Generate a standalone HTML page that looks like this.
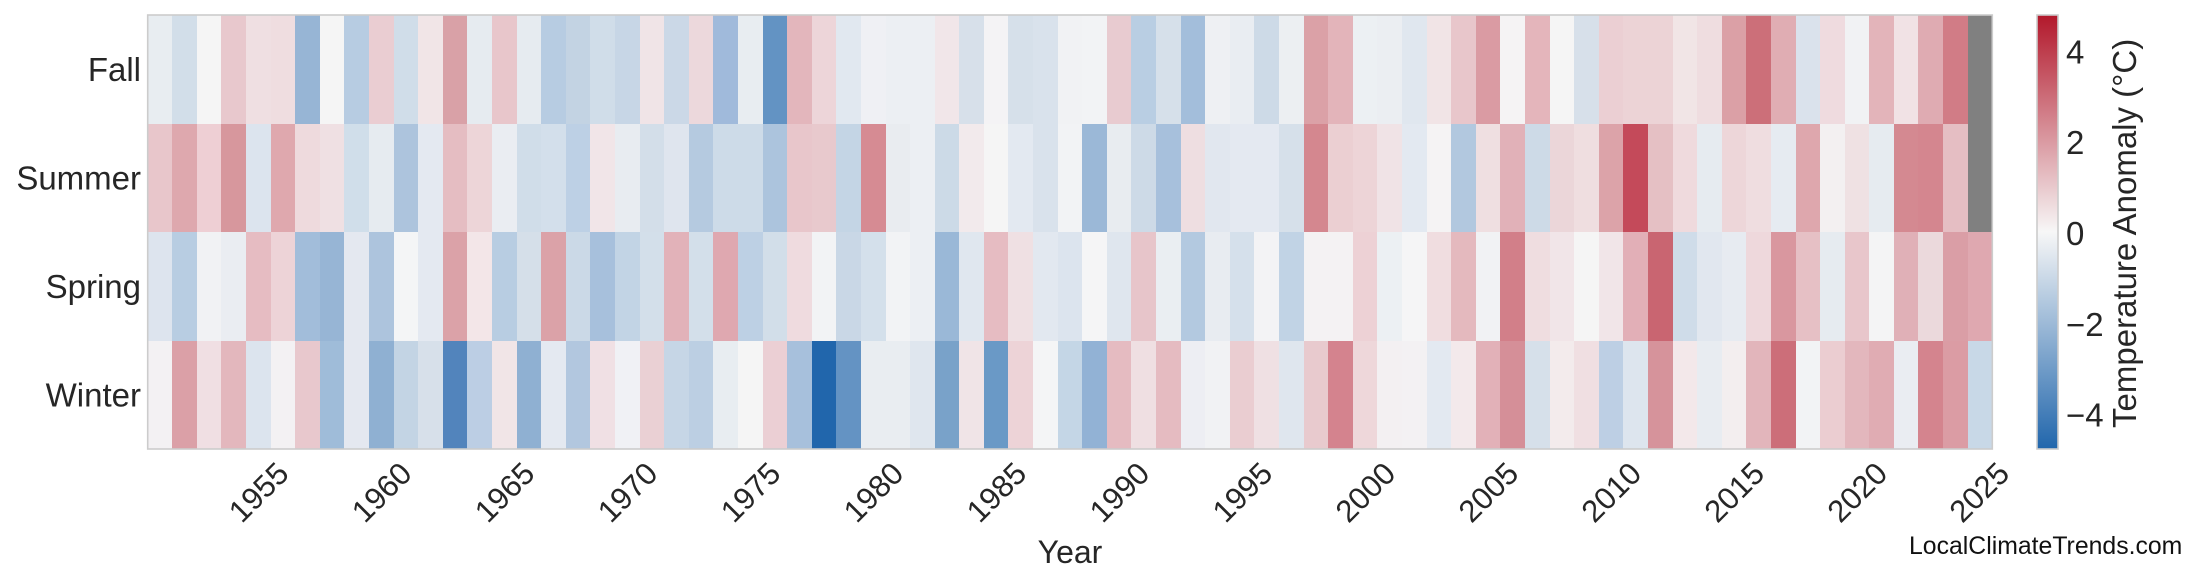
<!DOCTYPE html>
<html>
<head>
<meta charset="utf-8">
<style>
html,body{margin:0;padding:0;background:#fff;}
#wrap{position:relative;width:2200px;height:585px;overflow:hidden;background:#fff;}
#hm{position:absolute;left:147.7px;top:15px;width:1844.6px;height:434px;display:grid;grid-template-columns:repeat(75,1fr);grid-template-rows:repeat(4,1fr);}
#hm i{display:block;}
#cb{position:absolute;left:2037px;top:15px;width:21px;height:434px;background:linear-gradient(to bottom,#b2182b 0%,#f7f7f7 50%,#2166ac 100%);}
svg{position:absolute;left:0;top:0;}
text{font-family:"Liberation Sans",Arial,sans-serif;fill:#262626;}
</style>
</head>
<body>
<div id="wrap">
<div id="hm">
<i style="background:#e8edf1"></i><i style="background:#d2dee9"></i><i style="background:#f5f5f5"></i><i style="background:#e8c8cd"></i><i style="background:#efdfe2"></i><i style="background:#efdde0"></i><i style="background:#97b5d5"></i><i style="background:#f5f5f5"></i><i style="background:#b7cce2"></i><i style="background:#eacdd2"></i><i style="background:#d0dde9"></i><i style="background:#f1e5e7"></i><i style="background:#d9a1a7"></i><i style="background:#e6ebf0"></i><i style="background:#e8c6cb"></i><i style="background:#e6ebf0"></i><i style="background:#b7cce2"></i><i style="background:#c3d3e3"></i><i style="background:#d0dde9"></i><i style="background:#c7d6e6"></i><i style="background:#f0e4e7"></i><i style="background:#cbd8e7"></i><i style="background:#ecd8dc"></i><i style="background:#a0badb"></i><i style="background:#e8edf1"></i><i style="background:#6393c3"></i><i style="background:#e3b6bc"></i><i style="background:#edd5d9"></i><i style="background:#e1e8f0"></i><i style="background:#eff0f4"></i><i style="background:#eceff3"></i><i style="background:#eceff3"></i><i style="background:#f1e6e9"></i><i style="background:#d7e0ea"></i><i style="background:#f4f3f5"></i><i style="background:#d6e0ea"></i><i style="background:#d9e2ec"></i><i style="background:#f1f2f4"></i><i style="background:#f2f3f5"></i><i style="background:#e8cbd0"></i><i style="background:#b9cee3"></i><i style="background:#d6e0ea"></i><i style="background:#a3bedb"></i><i style="background:#eef0f3"></i><i style="background:#e9edf2"></i><i style="background:#cddae7"></i><i style="background:#eceff2"></i><i style="background:#dba1a7"></i><i style="background:#e3b4ba"></i><i style="background:#ecf0f3"></i><i style="background:#ebeef2"></i><i style="background:#e0e7ef"></i><i style="background:#f1e4e6"></i><i style="background:#e8c6cb"></i><i style="background:#da9ba3"></i><i style="background:#f5f3f4"></i><i style="background:#e4b5bb"></i><i style="background:#f5f5f5"></i><i style="background:#d7e0ea"></i><i style="background:#ebcfd3"></i><i style="background:#ecd3d6"></i><i style="background:#ecd3d6"></i><i style="background:#f1e5e6"></i><i style="background:#efdde0"></i><i style="background:#dba0a6"></i><i style="background:#cc6f79"></i><i style="background:#e0adb3"></i><i style="background:#dae2ec"></i><i style="background:#efdbdf"></i><i style="background:#f1f2f4"></i><i style="background:#e3b4ba"></i><i style="background:#f1e2e5"></i><i style="background:#dfabb2"></i><i style="background:#d17c86"></i><i style="background:#808080"></i>
<i style="background:#e8c6cb"></i><i style="background:#dea8ae"></i><i style="background:#eecfd4"></i><i style="background:#d7979d"></i><i style="background:#dce4ee"></i><i style="background:#dfa8ae"></i><i style="background:#eedadd"></i><i style="background:#efe0e3"></i><i style="background:#d0deea"></i><i style="background:#e6ebf0"></i><i style="background:#adc4dd"></i><i style="background:#e4e9f1"></i><i style="background:#e5bdc2"></i><i style="background:#edd5d8"></i><i style="background:#eaedf2"></i><i style="background:#d0dde9"></i><i style="background:#d3dfeb"></i><i style="background:#bdd0e5"></i><i style="background:#f1e5e8"></i><i style="background:#e8ecf1"></i><i style="background:#d3dee9"></i><i style="background:#dfe5ee"></i><i style="background:#b5cae0"></i><i style="background:#cddbe8"></i><i style="background:#cddbe8"></i><i style="background:#acc4dd"></i><i style="background:#e8c6cb"></i><i style="background:#e8c9cd"></i><i style="background:#c4d5e5"></i><i style="background:#d68b93"></i><i style="background:#e9ecf0"></i><i style="background:#eceff3"></i><i style="background:#ccdae7"></i><i style="background:#f2eaec"></i><i style="background:#f5f5f5"></i><i style="background:#e3e9f1"></i><i style="background:#d9e2ec"></i><i style="background:#f2f3f5"></i><i style="background:#9bb8d7"></i><i style="background:#e8ecf0"></i><i style="background:#cddae7"></i><i style="background:#a7c0dc"></i><i style="background:#eedee1"></i><i style="background:#e1e7ef"></i><i style="background:#e4e9f1"></i><i style="background:#e4e9f1"></i><i style="background:#d6e0ea"></i><i style="background:#d4878f"></i><i style="background:#ebcfd2"></i><i style="background:#edd4d7"></i><i style="background:#f0e3e6"></i><i style="background:#e3e9f1"></i><i style="background:#f5f3f4"></i><i style="background:#b2c8df"></i><i style="background:#efdfe1"></i><i style="background:#e1b1b8"></i><i style="background:#cddae7"></i><i style="background:#ebd6d9"></i><i style="background:#efdee0"></i><i style="background:#dca3a9"></i><i style="background:#c44a5a"></i><i style="background:#e5c0c4"></i><i style="background:#efdadd"></i><i style="background:#e6ebf0"></i><i style="background:#edd6d9"></i><i style="background:#efdde0"></i><i style="background:#e6ebf1"></i><i style="background:#dea7ad"></i><i style="background:#f3f0f1"></i><i style="background:#efe1e3"></i><i style="background:#e6ebf0"></i><i style="background:#d48991"></i><i style="background:#d4868f"></i><i style="background:#e5bec3"></i><i style="background:#808080"></i>
<i style="background:#dde4ee"></i><i style="background:#b8cde2"></i><i style="background:#f1f2f4"></i><i style="background:#eaedf2"></i><i style="background:#e6bcc2"></i><i style="background:#edd3d7"></i><i style="background:#a2bdda"></i><i style="background:#97b5d5"></i><i style="background:#e4e8f0"></i><i style="background:#adc4dd"></i><i style="background:#f4f5f6"></i><i style="background:#e4e9f1"></i><i style="background:#dba2a8"></i><i style="background:#f3e6e8"></i><i style="background:#b8cde2"></i><i style="background:#d5dfe9"></i><i style="background:#dba2a8"></i><i style="background:#cbd9e7"></i><i style="background:#a7c0dc"></i><i style="background:#c2d4e5"></i><i style="background:#d3dfea"></i><i style="background:#e2b2b9"></i><i style="background:#d3dfea"></i><i style="background:#dfa8b0"></i><i style="background:#bdd0e4"></i><i style="background:#d2dee9"></i><i style="background:#efdbdf"></i><i style="background:#f2f3f5"></i><i style="background:#c9d7e6"></i><i style="background:#d4e0eb"></i><i style="background:#f2f3f5"></i><i style="background:#eceff3"></i><i style="background:#9ab8d7"></i><i style="background:#e0e7ef"></i><i style="background:#e6bcc2"></i><i style="background:#efe0e3"></i><i style="background:#e2e8f0"></i><i style="background:#dce4ee"></i><i style="background:#f5f5f6"></i><i style="background:#dfe6ee"></i><i style="background:#e7c5ca"></i><i style="background:#eaeef2"></i><i style="background:#b3c9e0"></i><i style="background:#e8ecf1"></i><i style="background:#d5e0eb"></i><i style="background:#f3f3f5"></i><i style="background:#c1d3e5"></i><i style="background:#f4f2f3"></i><i style="background:#f4f2f3"></i><i style="background:#edd1d5"></i><i style="background:#ecf0f3"></i><i style="background:#f5f5f6"></i><i style="background:#f0dde0"></i><i style="background:#e4b9be"></i><i style="background:#f1f2f4"></i><i style="background:#d27f89"></i><i style="background:#efdde0"></i><i style="background:#f1e5e8"></i><i style="background:#f5f5f5"></i><i style="background:#f1e5e8"></i><i style="background:#e2afb7"></i><i style="background:#c96571"></i><i style="background:#cfdce9"></i><i style="background:#e1e7ef"></i><i style="background:#e7ebf1"></i><i style="background:#eed8dc"></i><i style="background:#d9979f"></i><i style="background:#e6c0c5"></i><i style="background:#e6ebf0"></i><i style="background:#e8c6cb"></i><i style="background:#f4f4f5"></i><i style="background:#e0b0b7"></i><i style="background:#ebd9dc"></i><i style="background:#da9ea6"></i><i style="background:#dfa8b0"></i>
<i style="background:#f3f1f3"></i><i style="background:#dba0a7"></i><i style="background:#f0dfe3"></i><i style="background:#e3b7bd"></i><i style="background:#dce4ee"></i><i style="background:#f3f1f3"></i><i style="background:#e8c8cd"></i><i style="background:#9fbcd9"></i><i style="background:#e4e8f0"></i><i style="background:#8fb0d2"></i><i style="background:#c3d4e4"></i><i style="background:#d7e0ea"></i><i style="background:#5284bc"></i><i style="background:#bccee4"></i><i style="background:#f1e5e7"></i><i style="background:#8fb0d2"></i><i style="background:#e4e9f1"></i><i style="background:#b2c7df"></i><i style="background:#f0e0e4"></i><i style="background:#f0f1f5"></i><i style="background:#ead0d4"></i><i style="background:#c6d6e6"></i><i style="background:#bccfe3"></i><i style="background:#e8edf1"></i><i style="background:#f5f5f5"></i><i style="background:#ebcfd4"></i><i style="background:#a7c0dc"></i><i style="background:#2166ac"></i><i style="background:#6493c3"></i><i style="background:#e9edf1"></i><i style="background:#e9edf1"></i><i style="background:#dfe6ee"></i><i style="background:#79a2c9"></i><i style="background:#f0e4e7"></i><i style="background:#6a99c6"></i><i style="background:#edd3d7"></i><i style="background:#f4f5f6"></i><i style="background:#c4d6e6"></i><i style="background:#92b2d5"></i><i style="background:#e5bbc1"></i><i style="background:#efdfe2"></i><i style="background:#e5bbc1"></i><i style="background:#edeef3"></i><i style="background:#f1f2f4"></i><i style="background:#eacdd1"></i><i style="background:#efe0e3"></i><i style="background:#dfe6ee"></i><i style="background:#e8cace"></i><i style="background:#d4838e"></i><i style="background:#eed7da"></i><i style="background:#f3f0f2"></i><i style="background:#f3f1f3"></i><i style="background:#e3e9f1"></i><i style="background:#f3e9eb"></i><i style="background:#e2b1b8"></i><i style="background:#d58f98"></i><i style="background:#d6e0ea"></i><i style="background:#f3ebec"></i><i style="background:#f0dfe2"></i><i style="background:#bdcfe4"></i><i style="background:#dde5ee"></i><i style="background:#d6939b"></i><i style="background:#f3e8ea"></i><i style="background:#e8ecf1"></i><i style="background:#f3eeef"></i><i style="background:#e2b5bb"></i><i style="background:#cc6e79"></i><i style="background:#f2f3f5"></i><i style="background:#ebcdd1"></i><i style="background:#e3b7bd"></i><i style="background:#e0acb3"></i><i style="background:#eaedf2"></i><i style="background:#d4848e"></i><i style="background:#db9ca4"></i><i style="background:#c8d8e7"></i>
</div>
<div id="cb"></div>
<svg width="2200" height="585" viewBox="0 0 2200 585" xmlns="http://www.w3.org/2000/svg">
  <rect x="147.7" y="15" width="1844.6" height="434" fill="none" stroke="#cccccc" stroke-width="1.6"/>
  <rect x="2037" y="15" width="21" height="434" fill="none" stroke="#cccccc" stroke-width="1.6"/>

  <g font-size="33" text-anchor="end">
    <text x="141" y="80.8">Fall</text>
    <text x="141" y="189.3">Summer</text>
    <text x="141" y="297.8">Spring</text>
    <text x="141" y="406.3">Winter</text>
  </g>

  <g font-size="31" text-anchor="middle">
    <text transform="translate(258.4,492) rotate(-45)" y="11">1955</text>
    <text transform="translate(381.4,492) rotate(-45)" y="11">1960</text>
    <text transform="translate(504.3,492) rotate(-45)" y="11">1965</text>
    <text transform="translate(627.3,492) rotate(-45)" y="11">1970</text>
    <text transform="translate(750.3,492) rotate(-45)" y="11">1975</text>
    <text transform="translate(873.2,492) rotate(-45)" y="11">1980</text>
    <text transform="translate(996.2,492) rotate(-45)" y="11">1985</text>
    <text transform="translate(1119.2,492) rotate(-45)" y="11">1990</text>
    <text transform="translate(1242.1,492) rotate(-45)" y="11">1995</text>
    <text transform="translate(1365.1,492) rotate(-45)" y="11">2000</text>
    <text transform="translate(1488.1,492) rotate(-45)" y="11">2005</text>
    <text transform="translate(1611.0,492) rotate(-45)" y="11">2010</text>
    <text transform="translate(1734.0,492) rotate(-45)" y="11">2015</text>
    <text transform="translate(1857.0,492) rotate(-45)" y="11">2020</text>
    <text transform="translate(1979.0,492) rotate(-45)" y="11">2025</text>
  </g>

  <text x="1070" y="563" font-size="32" text-anchor="middle">Year</text>

  <g font-size="33">
    <text x="2066" y="63.4">4</text>
    <text x="2066" y="154.2">2</text>
    <text x="2066" y="245">0</text>
    <text x="2066" y="335.8">−2</text>
    <text x="2066" y="426.6">−4</text>
  </g>

  <text transform="translate(2136,233.4) rotate(-90)" font-size="33" text-anchor="middle">Temperature Anomaly (°C)</text>

  <text x="1909" y="554" font-size="24.8" style="fill:#111111">LocalClimateTrends.com</text>
</svg>
</div>
</body>
</html>
